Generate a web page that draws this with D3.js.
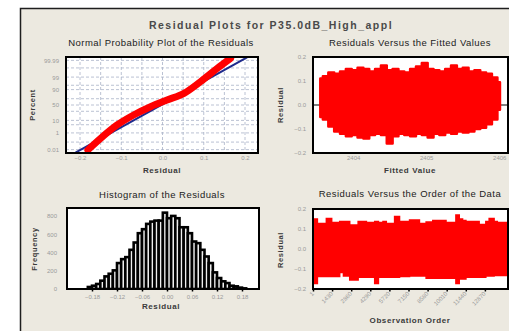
<!DOCTYPE html>
<html>
<head>
<meta charset="utf-8">
<script src="https://cdn.jsdelivr.net/npm/d3@7"></script>
<style>
  body { margin: 0; background: #fff; }
  svg { display: block; font-family: "Liberation Sans", Arial, sans-serif; }
</style>
</head>
<body>
<div id="chart"></div>
<script>
// Normal probability plot: centre line of the red band
const npResid = [-0.181, -0.150, -0.110, -0.070, -0.029, 0.011, 0.052, 0.092, 0.133, 0.165];
const npPercent = [0.0088, 0.27, 4.8, 20.3, 44.4, 66.2, 83.5, 97.4, 99.89, 99.995];
const npLineResid = [-0.211, 0.205];
const npLinePercent = [0.0036, 99.9964];
const npXTicks = [-0.2, -0.1, 0, 0.1, 0.2];
const npYTicks = [0.01, 1, 10, 50, 90, 99, 99.99];
const npGridX = [-0.2, -0.15, -0.1, -0.05, 0, 0.05, 0.1, 0.15, 0.2];
const npGridY = [0.01, 0.1, 1, 5, 10, 30, 50, 70, 90, 95, 99, 99.9, 99.99];

// Residuals versus fits: outline of the point cloud
const fitX = [2403.55, 2403.62, 2403.70, 2403.78, 2403.86, 2403.94, 2404.02, 2404.10,
  2404.18, 2404.26, 2404.34, 2404.42, 2404.50, 2404.58, 2404.66, 2404.74, 2404.82,
  2404.90, 2404.98, 2405.06, 2405.14, 2405.22, 2405.30, 2405.38, 2405.46, 2405.54,
  2405.62, 2405.70, 2405.78, 2405.86, 2405.94, 2406.01];
const fitTop = [0.110, 0.120, 0.135, 0.130, 0.140, 0.150, 0.145, 0.155, 0.150, 0.140,
  0.150, 0.165, 0.145, 0.150, 0.140, 0.135, 0.150, 0.160, 0.175, 0.150, 0.145, 0.140,
  0.150, 0.165, 0.150, 0.155, 0.140, 0.145, 0.135, 0.130, 0.115, 0.095];
const fitBot = [-0.050, -0.060, -0.090, -0.110, -0.120, -0.130, -0.125, -0.135, -0.140,
  -0.125, -0.120, -0.125, -0.160, -0.130, -0.120, -0.125, -0.130, -0.120, -0.125,
  -0.135, -0.120, -0.125, -0.115, -0.120, -0.110, -0.115, -0.110, -0.100, -0.095,
  -0.080, -0.060, -0.020];
const fitXTicks = [2404, 2405, 2406];
const residTicks = [-0.2, -0.1, 0, 0.1, 0.2];

// Histogram of the residuals
const histCounts = [22, 36, 55, 91, 138, 167, 204, 284, 327, 349, 429, 509, 611, 655,
  713, 738, 749, 749, 836, 775, 800, 775, 676, 676, 611, 520, 502, 429, 356, 284, 182,
  120, 84, 65, 36, 29, 15, 7];
const histStart = -0.19;
const histWidth = 0.01;
const histXTicks = [-0.18, -0.12, -0.06, 0, 0.06, 0.12, 0.18];
const histYTicks = [0, 200, 400, 600, 800];

// Residuals versus order: outline of the band
const orderX = [1, 330, 560, 1000, 1400, 2000, 2280, 2750, 3380, 4000, 4620, 4900, 5240,
  5490, 6110, 6480, 7230, 7970, 8470, 8970, 9960, 10700, 10950, 11200, 11450, 12440,
  12940, 13190, 13560, 13800, 14600];
const orderTop = [0.150, 0.128, 0.128, 0.153, 0.132, 0.137, 0.137, 0.120, 0.137, 0.132,
  0.137, 0.132, 0.137, 0.128, 0.162, 0.137, 0.145, 0.128, 0.135, 0.142, 0.132, 0.170,
  0.150, 0.142, 0.137, 0.122, 0.137, 0.153, 0.137, 0.132, 0.132];
const orderBot = [-0.172, -0.138, -0.138, -0.138, -0.138, -0.118, -0.135, -0.155, -0.141,
  -0.141, -0.172, -0.141, -0.141, -0.141, -0.141, -0.138, -0.135, -0.135, -0.146, -0.146,
  -0.146, -0.172, -0.150, -0.150, -0.141, -0.141, -0.135, -0.135, -0.132, -0.132, -0.132];
const orderTicks = [1, 1430, 2860, 4290, 5720, 7150, 8580, 10010, 11440, 12870];

const width = 509, height = 331;
const red = "#ff0000";

// inverse normal cdf (Acklam), used for the probability axis
function probit(p) {
  const a = [-39.69683028665376, 220.9460984245205, -275.9285104469687, 138.3577518672690, -30.66479806614716, 2.506628277459239];
  const b = [-54.47609879822406, 161.5858368580409, -155.6989798598866, 66.80131188771972, -13.28068155288572];
  const c = [-0.007784894002430293, -0.3223964580411365, -2.400758277161838, -2.549732539343734, 4.374664141464968, 2.938163982698783];
  const d = [0.007784695709041462, 0.3224671290700398, 2.445134137142996, 3.754408661907416];
  const lo = 0.02425;
  if (p < lo) {
    const q = Math.sqrt(-2 * Math.log(p));
    return (((((c[0]*q+c[1])*q+c[2])*q+c[3])*q+c[4])*q+c[5]) / ((((d[0]*q+d[1])*q+d[2])*q+d[3])*q+1);
  }
  if (p > 1 - lo) {
    const q = Math.sqrt(-2 * Math.log(1 - p));
    return -(((((c[0]*q+c[1])*q+c[2])*q+c[3])*q+c[4])*q+c[5]) / ((((d[0]*q+d[1])*q+d[2])*q+d[3])*q+1);
  }
  const q = p - 0.5, r = q * q;
  return (((((a[0]*r+a[1])*r+a[2])*r+a[3])*r+a[4])*r+a[5])*q / (((((b[0]*r+b[1])*r+b[2])*r+b[3])*r+b[4])*r+1);
}

const svg = d3.select("#chart").append("svg")
  .attr("width", width)
  .attr("height", height);

svg.append("rect")
  .attr("width", width).attr("height", height)
  .attr("fill", "#fff");

// outer window frame, runs off the right and bottom of the picture
svg.append("rect")
  .attr("x", 20.5).attr("y", 8.5)
  .attr("width", 600).attr("height", 400)
  .attr("fill", "#ece9e0")
  .attr("stroke", "#1e1e1e")
  .attr("stroke-width", 1.5);

svg.append("text")
  .attr("x", 271).attr("y", 29)
  .attr("text-anchor", "middle")
  .attr("font-size", 10.5)
  .attr("font-weight", "bold")
  .attr("letter-spacing", 1.5)
  .attr("fill", "#4a4a4a")
  .text("Residual Plots for P35.0dB_High_appl");

function subtitle(x, y, txt) {
  svg.append("text")
    .attr("x", x).attr("y", y)
    .attr("text-anchor", "middle")
    .attr("font-size", 9.5)
    .attr("letter-spacing", 0.45)
    .attr("fill", "#222")
    .text(txt);
}

function axisTitle(x, y, txt, rotate) {
  svg.append("text")
    .attr("transform", `translate(${x},${y})` + (rotate ? " rotate(-90)" : ""))
    .attr("text-anchor", "middle")
    .attr("font-size", rotate ? 7.5 : 8)
    .attr("font-weight", "bold")
    .attr("letter-spacing", 0.6)
    .attr("fill", "#3a3a3a")
    .text(txt);
}

function styleAxis(g) {
  g.select(".domain").remove();
  g.selectAll("text").attr("fill", "#9a9a9a").attr("font-size", 6)
    .attr("font-family", "'Liberation Sans', Arial, sans-serif");
  g.selectAll("line").attr("stroke", "#000").attr("stroke-width", 1.5);
}

function plotBg(x0, y0, x1, y1) {
  svg.append("rect")
    .attr("x", x0).attr("y", y0)
    .attr("width", x1 - x0).attr("height", y1 - y0)
    .attr("fill", "#fff");
}

function plotFrame(x0, y0, x1, y1) {
  svg.append("rect")
    .attr("x", x0).attr("y", y0)
    .attr("width", x1 - x0).attr("height", y1 - y0)
    .attr("fill", "none")
    .attr("stroke", "#000")
    .attr("stroke-width", 2);
}

function clipFor(id, x0, y0, x1, y1) {
  svg.append("clipPath").attr("id", id)
    .append("rect")
    .attr("x", x0).attr("y", y0)
    .attr("width", x1 - x0).attr("height", y1 - y0);
}

const fmt1 = d3.format(".1f");
const fmt2 = d3.format(".2f");

// ---------- Normal probability plot ----------
{
  const x0 = 66, x1 = 258, y0 = 57, y1 = 153;
  const x = d3.scaleLinear().domain([-0.234, 0.2315]).range([x0, x1]);
  const z = d3.scaleLinear().domain([-4, 4]).range([y1, y0]);
  const y = p => z(probit(p / 100));

  plotBg(x0, y0, x1, y1);
  clipFor("clip-np", x0, y0, x1, y1);

  const grid = svg.append("g").attr("stroke", "#a9b2c8")
    .attr("stroke-width", 0.8).attr("stroke-dasharray", "3,2");
  grid.selectAll(".gx").data(npGridX).enter().append("line")
    .attr("x1", d => x(d)).attr("x2", d => x(d))
    .attr("y1", y0).attr("y2", y1);
  grid.selectAll(".gy").data(npGridY).enter().append("line")
    .attr("x1", x0).attr("x2", x1)
    .attr("y1", d => y(d)).attr("y2", d => y(d));

  const g = svg.append("g").attr("clip-path", "url(#clip-np)");
  const fitPts = npLineResid.map((r, i) => [r, npLinePercent[i]]);
  g.append("path")
    .attr("d", d3.line().x(d => x(d[0])).y(d => y(d[1]))(fitPts))
    .attr("stroke", "#1f2a8c")
    .attr("stroke-width", 2)
    .attr("fill", "none");

  const pts = npResid.map((r, i) => [r, npPercent[i]]);
  g.append("path")
    .attr("d", d3.line().curve(d3.curveMonotoneX).x(d => x(d[0])).y(d => y(d[1]))(pts))
    .attr("stroke", red)
    .attr("stroke-width", 7)
    .attr("stroke-linecap", "round")
    .attr("fill", "none");

  svg.append("g").attr("transform", `translate(0,${y1})`)
    .call(d3.axisBottom(x).tickValues(npXTicks).tickSize(0).tickPadding(3)
      .tickFormat(fmt1))
    .call(styleAxis);
  svg.append("g").attr("transform", `translate(${x0},0)`)
    .call(d3.axisLeft(d3.scaleLinear().domain([y1, y0]).range([y1, y0]))
      .tickValues(npYTicks.map(y)).tickSize(0).tickPadding(7)
      .tickFormat((d, i) => String(npYTicks[i])))
    .call(styleAxis);

  plotFrame(x0, y0, x1, y1);
  subtitle(161, 46, "Normal Probability Plot of the Residuals");
  axisTitle(162, 173, "Residual");
  axisTitle(35, 105, "Percent", true);
}

// ---------- Residuals versus fitted values ----------
{
  const x0 = 313, x1 = 508, y0 = 57, y1 = 153;
  const x = d3.scaleLinear().domain([2403.45, 2406.12]).range([x0, x1]);
  const y = d3.scaleLinear().domain([-0.2, 0.2]).range([y1, y0]);

  plotBg(x0, y0, x1, y1);
  clipFor("clip-fit", x0, y0, x1, y1);

  svg.append("line")
    .attr("x1", x0).attr("x2", x1)
    .attr("y1", y(0)).attr("y2", y(0))
    .attr("stroke", "#000").attr("stroke-width", 1.2);

  const cloud = fitX.map((v, i) => ({ x: v, top: fitTop[i], bot: fitBot[i] }));
  svg.append("g").attr("clip-path", "url(#clip-fit)")
    .append("path")
    .attr("d", d3.area().curve(d3.curveStep)
      .x(d => x(d.x)).y0(d => y(d.bot)).y1(d => y(d.top))(cloud))
    .attr("fill", red)
    .attr("stroke", red)
    .attr("stroke-width", 2.5)
    .attr("stroke-linejoin", "round");

  svg.append("g").attr("transform", `translate(0,${y1})`)
    .call(d3.axisBottom(x).tickValues(fitXTicks).tickSize(0).tickPadding(3)
      .tickFormat(d3.format("d")))
    .call(styleAxis);
  svg.append("g").attr("transform", `translate(${x0},0)`)
    .call(d3.axisLeft(y).tickValues(residTicks).tickSize(0).tickPadding(7)
      .tickFormat(fmt1))
    .call(styleAxis);

  plotFrame(x0, y0, x1, y1);
  subtitle(410, 46, "Residuals Versus the Fitted Values");
  axisTitle(410, 173, "Fitted Value");
  axisTitle(283, 105, "Residual", true);
}

// ---------- Histogram ----------
{
  const x0 = 67, x1 = 259, y0 = 208, y1 = 289;
  const x = d3.scaleLinear().domain([-0.24, 0.2208]).range([x0, x1]);
  const y = d3.scaleLinear().domain([0, 887]).range([y1, y0]);

  plotBg(x0, y0, x1, y1);
  clipFor("clip-hist", x0, y0, x1, y1 + 1);

  svg.append("g").attr("clip-path", "url(#clip-hist)")
    .selectAll("rect").data(histCounts).enter().append("rect")
    .attr("x", (_, i) => x(histStart + i * histWidth))
    .attr("width", (_, i) => x(histStart + (i + 1) * histWidth) - x(histStart + i * histWidth))
    .attr("y", d => y(d))
    .attr("height", d => y1 - y(d))
    .attr("fill", "#eeeeee")
    .attr("stroke", "#000")
    .attr("stroke-width", 2.6);

  svg.append("g").attr("transform", `translate(0,${y1})`)
    .call(d3.axisBottom(x).tickValues(histXTicks).tickSize(2.5).tickPadding(3)
      .tickFormat(fmt2))
    .call(styleAxis);
  svg.append("g").attr("transform", `translate(${x0},0)`)
    .call(d3.axisLeft(y).tickValues(histYTicks).tickSize(0).tickPadding(10)
      .tickFormat(d3.format("d")))
    .call(styleAxis);

  plotFrame(x0, y0, x1, y1);
  subtitle(162, 198, "Histogram of the Residuals");
  axisTitle(161, 309, "Residual");
  axisTitle(37, 249, "Frequency", true);
}

// ---------- Residuals versus order ----------
{
  const x0 = 313, x1 = 508, y0 = 209, y1 = 289;
  const x = d3.scaleLinear().domain([1, 14600]).range([x0, x1]);
  const y = d3.scaleLinear().domain([-0.2, 0.2]).range([y1, y0]);

  plotBg(x0, y0, x1, y1);
  clipFor("clip-order", x0, y0, x1, y1);

  svg.append("line")
    .attr("x1", x0).attr("x2", x1)
    .attr("y1", y(0)).attr("y2", y(0))
    .attr("stroke", "#000").attr("stroke-width", 1.2);

  const band = orderX.map((v, i) => ({ x: v, top: orderTop[i], bot: orderBot[i] }));
  svg.append("g").attr("clip-path", "url(#clip-order)")
    .append("path")
    .attr("d", d3.area().curve(d3.curveStepAfter)
      .x(d => x(d.x)).y0(d => y(d.bot)).y1(d => y(d.top))(band))
    .attr("fill", red)
    .attr("stroke", red)
    .attr("stroke-width", 1.5);

  const ax = svg.append("g").attr("transform", `translate(0,${y1})`)
    .call(d3.axisBottom(x).tickValues(orderTicks).tickSize(2.5).tickPadding(3)
      .tickFormat(d3.format("d")))
    .call(styleAxis);
  ax.selectAll("text")
    .attr("text-anchor", "end")
    .attr("dy", "0.35em")
    .attr("transform", "translate(0,3) rotate(-45)")
    .attr("y", 0).attr("x", -1);

  svg.append("g").attr("transform", `translate(${x0},0)`)
    .call(d3.axisLeft(y).tickValues(residTicks).tickSize(0).tickPadding(7)
      .tickFormat(fmt1))
    .call(styleAxis);

  plotFrame(x0, y0, x1, y1);
  subtitle(410, 197, "Residuals Versus the Order of the Data");
  axisTitle(410, 323, "Observation Order");
  axisTitle(283, 250, "Residual", true);
}
</script>
</body>
</html>
